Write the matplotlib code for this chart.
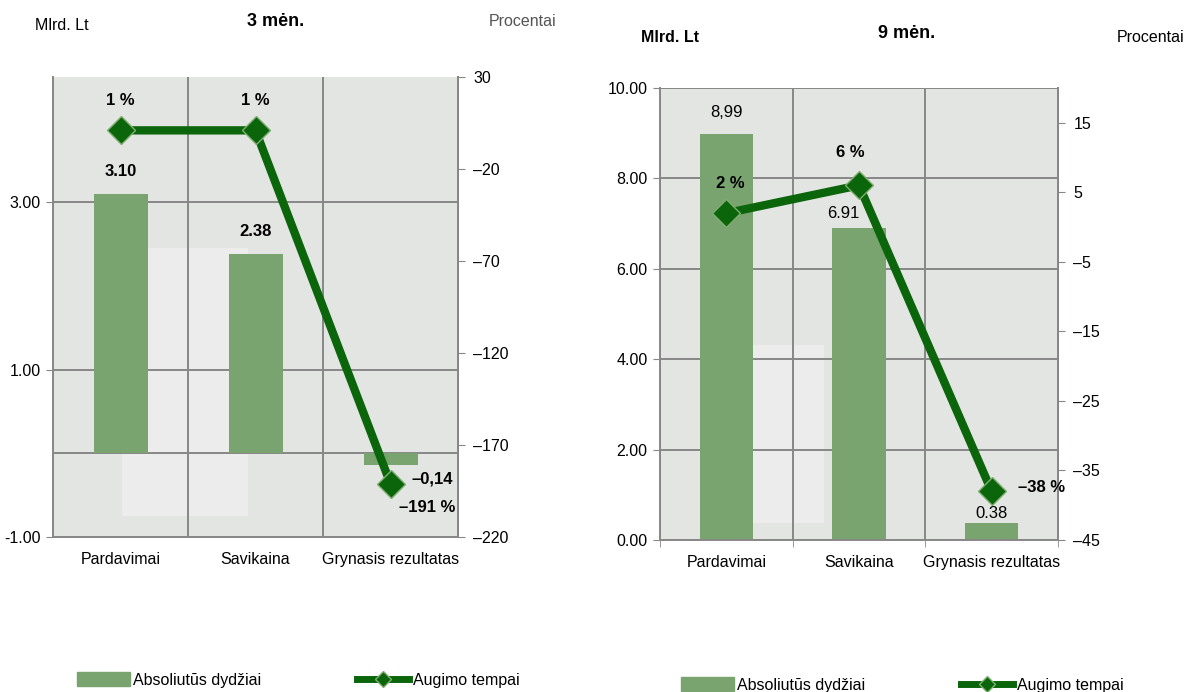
import numpy as np
import matplotlib
matplotlib.use('Agg')
import matplotlib.pyplot as plt
from matplotlib.patches import Patch, Rectangle
from matplotlib.lines import Line2D

plt.rcParams['font.family'] = ['Liberation Sans Narrow', 'Liberation Sans', 'DejaVu Sans']

categories = ['Pardavimai', 'Savikaina', 'Grynasis rezultatas']

# 3 months
values_3m = [3.10, 2.38, -0.14]
growth_3m = [1, 1, -191]
bar_labels_3m = ['3.10', '2.38', '–0,14']
growth_labels_3m = ['1 %', '1 %', '–191 %']
yticks_3m = [-1, 1, 3]
yticklabels_3m = ['-1.00', '1.00', '3.00']
rticks_3m = [30, -20, -70, -120, -170, -220]
rticklabels_3m = ['30', '–20', '–70', '–120', '–170', '–220']

# 9 months
values_9m = [8.99, 6.91, 0.38]
growth_9m = [2, 6, -38]
bar_labels_9m = ['8,99', '6.91', '0.38']
growth_labels_9m = ['2 %', '6 %', '–38 %']
yticks_9m = [0, 2, 4, 6, 8, 10]
yticklabels_9m = ['0.00', '2.00', '4.00', '6.00', '8.00', '10.00']
rticks_9m = [15, 5, -5, -15, -25, -35, -45]
rticklabels_9m = ['15', '5', '–5', '–15', '–25', '–35', '–45']

bar_color = '#79a36f'
line_color = '#0b650b'
bg_color = '#e3e5e2'
grid_color = '#878787'
W, H = 1192, 692

fig = plt.figure(figsize=(11.92, 6.92), dpi=100)
fig.patch.set_facecolor('white')


def px(x, y):
    return x / W, 1 - y / H


def make_panel(rect, values, growth, ylim, rlim, yticks, yticklabels,
               rticks, rticklabels, ghost, edge_ticks):
    ax = fig.add_axes(rect)
    ax.set_facecolor(bg_color)
    x = np.arange(len(categories))
    ax.bar(x, values, width=0.4, color=bar_color, zorder=2)
    ax.add_patch(Rectangle((ghost[0], ghost[1]), ghost[2], ghost[3],
                           transform=ax.transAxes, color='#ececec',
                           zorder=0.3, lw=0))
    ax.set_xlim(-0.5, len(categories) - 0.5)
    ax.set_ylim(*ylim)
    ax.set_xticks(x)
    ax.set_xticklabels(categories, fontsize=11.5)
    ax.set_xticks(np.arange(len(categories) + 1) - 0.5, minor=True)
    ax.set_yticks(yticks)
    ax.set_yticklabels(yticklabels, fontsize=11.5)
    ax.set_axisbelow(True)
    ax.grid(True, axis='y', color=grid_color, lw=1.4)
    ax.grid(True, axis='x', which='minor', color=grid_color, lw=1.4)
    ax.axhline(0, color=grid_color, lw=1.4, zorder=0.5)
    ax.tick_params(axis='x', which='major', length=0, pad=11)
    ax.tick_params(axis='x', which='minor', length=5 if edge_ticks else 0,
                   color=grid_color)
    ax.tick_params(axis='y', length=5, color=grid_color, pad=4)
    for s in ['left', 'bottom', 'right']:
        ax.spines[s].set_color(grid_color)
        ax.spines[s].set_linewidth(1.4)
    ax.spines['top'].set_visible(False)

    ax2 = ax.twinx()
    ax2.set_ylim(*rlim)
    ax2.set_yticks(rticks)
    ax2.set_yticklabels(rticklabels, fontsize=11.5)
    ax2.tick_params(axis='y', length=5, color=grid_color, pad=6)
    ax2.spines['right'].set_color(grid_color)
    ax2.spines['right'].set_linewidth(1.4)
    for s in ['left', 'top', 'bottom']:
        ax2.spines[s].set_visible(False)
    ax2.plot(x, growth, color=line_color, lw=6, marker='D', ms=14,
             mfc=line_color, mec='#7fae70', mew=1.0, zorder=5,
             solid_capstyle='round', solid_joinstyle='round')
    return ax, ax2


# left panel
axL, axL2 = make_panel([53 / W, 1 - 537 / H, 405 / W, 460 / H],
                       values_3m, growth_3m, (-1, 4.5), (-220, 30),
                       yticks_3m, yticklabels_3m, rticks_3m, rticklabels_3m,
                       (0.170, 0.046, 0.311, 0.582), False)
for i, v in enumerate(values_3m[:2]):
    axL.annotate(bar_labels_3m[i], (i, v), xytext=(0, 11), textcoords='offset points',
                 ha='center', va='bottom', fontsize=12, fontweight='bold')
axL.annotate(bar_labels_3m[2], (2, growth_3m[2]), xycoords=axL2.transData,
             xytext=(15, 3), textcoords='offset points', ha='left', va='center',
             fontsize=12, fontweight='bold')
for i, g in enumerate(growth_3m[:2]):
    axL2.annotate(growth_labels_3m[i], (i, g), xytext=(0, 16), textcoords='offset points',
                  ha='center', va='bottom', fontsize=12, fontweight='bold')
axL2.annotate(growth_labels_3m[2], (2, growth_3m[2]), xytext=(6, -17),
              textcoords='offset points', ha='left', va='center',
              fontsize=12, fontweight='bold')

# right panel
axR, axR2 = make_panel([660 / W, 1 - 540 / H, 398 / W, 452 / H],
                       values_9m, growth_9m, (0, 10), (-45, 20),
                       yticks_9m, yticklabels_9m, rticks_9m, rticklabels_9m,
                       (0.111, 0.038, 0.301, 0.393), True)
label_offsets_9m = [(0, 10), (-11, 5), (0, 1)]
for i, v in enumerate(values_9m):
    axR.annotate(bar_labels_9m[i], (i, v), xytext=label_offsets_9m[i],
                 textcoords='offset points', ha='center', va='bottom', fontsize=12)
axR2.annotate(growth_labels_9m[0], (0, growth_9m[0]), xytext=(3, 16),
              textcoords='offset points', ha='center', va='bottom',
              fontsize=12, fontweight='bold')
axR2.annotate(growth_labels_9m[1], (1, growth_9m[1]), xytext=(-6, 18),
              textcoords='offset points', ha='center', va='bottom',
              fontsize=12, fontweight='bold')
axR2.annotate(growth_labels_9m[2], (2, growth_9m[2]), xytext=(19, 3),
              textcoords='offset points', ha='left', va='center',
              fontsize=12, fontweight='bold')

# headers
fig.text(*px(35, 25), 'Mlrd. Lt', fontsize=11.5, va='center', ha='left')
fig.text(*px(276, 22), '3 mėn.', fontsize=13, fontweight='bold', va='center', ha='center')
fig.text(*px(523, 22), 'Procentai', fontsize=11.5, va='center', ha='center', color='#555555')
fig.text(*px(641, 38), 'Mlrd. Lt', fontsize=11.5, fontweight='bold', va='center', ha='left')
fig.text(*px(907, 33), '9 mėn.', fontsize=13, fontweight='bold', va='center', ha='center')
fig.text(*px(1151, 37), 'Procentai', fontsize=11.5, va='center', ha='center')

# legends
handles = [Patch(color=bar_color),
           Line2D([0], [0], color=line_color, lw=5, marker='D', ms=8,
                  mfc=line_color, mec='#7fae70')]
labels = ['Absoliutūs dydžiai', 'Augimo tempai']
fig.legend(handles, labels, loc='center', bbox_to_anchor=px(298, 680), ncol=2,
           frameon=False, fontsize=11.5, handlelength=3.3, handletextpad=0.2,
           columnspacing=6.0, handleheight=0.9)
fig.legend(handles, labels, loc='center', bbox_to_anchor=px(902, 685), ncol=2,
           frameon=False, fontsize=11.5, handlelength=3.3, handletextpad=0.2,
           columnspacing=6.0, handleheight=0.9)

plt.savefig('out.png', dpi=100)
